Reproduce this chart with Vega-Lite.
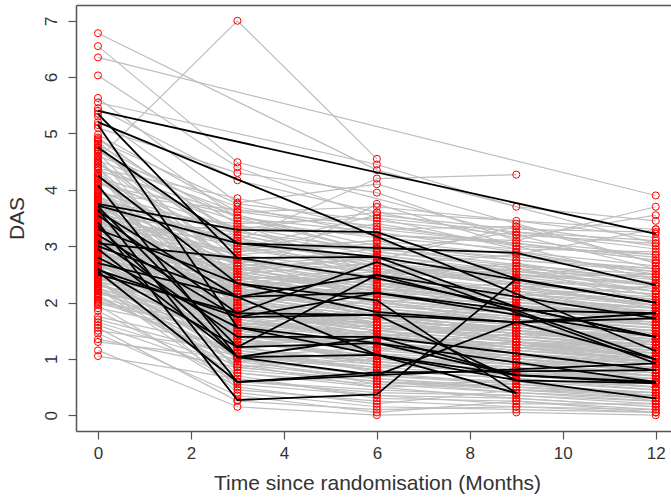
{
"$schema":"https://vega.github.io/schema/vega-lite/v6.json",
"width":595,"height":426,"autosize":"none",
"padding":{"left":76,"top":5,"right":0,"bottom":67},
"config":{"view":{"stroke":null},"font":"Liberation Sans",
"axis":{"grid":false,"domainColor":"#555","domainWidth":1.5,"tickColor":"#555","tickWidth":1.2,"tickSize":8,"labelFont":"Liberation Sans","labelFontSize":17,"labelColor":"#333","titleFont":"Liberation Sans","titleFontSize":21,"titleFontWeight":"normal","titleColor":"#333"}},
"datasets":{
"g":[
{"s":1,"t":0,"d":6.78},{"s":1,"t":6,"d":4.35},{"s":1,"t":12,"d":3.05},
{"s":2,"t":0,"d":6.55},{"s":2,"t":3,"d":4.49},{"s":2,"t":9,"d":3.2},{"s":2,"t":12,"d":2.6},
{"s":3,"t":0,"d":6.35},{"s":3,"t":12,"d":3.9},
{"s":4,"t":0,"d":6.03},{"s":4,"t":3,"d":4.4},{"s":4,"t":6,"d":3.5},{"s":4,"t":9,"d":2.95},
{"s":5,"t":0,"d":5.63},{"s":5,"t":3,"d":3.77},{"s":5,"t":6,"d":4.1},{"s":5,"t":9,"d":3.4},{"s":5,"t":12,"d":2.7},
{"s":6,"t":0,"d":5.55},{"s":6,"t":6,"d":4.45},{"s":6,"t":9,"d":3.7},{"s":6,"t":12,"d":3.45},
{"s":7,"t":0,"d":5.45},{"s":7,"t":3,"d":4.17},{"s":7,"t":6,"d":3.6},{"s":7,"t":12,"d":3.3},
{"s":8,"t":0,"d":5.3},{"s":8,"t":3,"d":3.5},{"s":8,"t":6,"d":2.9},{"s":8,"t":9,"d":2.6},{"s":8,"t":12,"d":2.2},
{"s":9,"t":0,"d":5.1},{"s":9,"t":3,"d":4.3},{"s":9,"t":6,"d":3.95},{"s":9,"t":9,"d":3.1},{"s":9,"t":12,"d":2.85},
{"s":10,"t":0,"d":4.98},{"s":10,"t":3,"d":3.61},{"s":10,"t":6,"d":3.3},{"s":10,"t":9,"d":3.35},{"s":10,"t":12,"d":3.0},
{"s":11,"t":0,"d":4.9},{"s":11,"t":3,"d":3.2},{"s":11,"t":6,"d":2.7},{"s":11,"t":12,"d":1.9},
{"s":12,"t":0,"d":4.85},{"s":12,"t":3,"d":2.9},{"s":12,"t":6,"d":3.1},{"s":12,"t":9,"d":2.5},{"s":12,"t":12,"d":2.3},
{"s":13,"t":0,"d":4.8},{"s":13,"t":3,"d":3.4},{"s":13,"t":6,"d":2.5},{"s":13,"t":9,"d":2.7},{"s":13,"t":12,"d":2.1},
{"s":14,"t":0,"d":4.75},{"s":14,"t":3,"d":2.6},{"s":14,"t":6,"d":2.2},{"s":14,"t":9,"d":1.8},{"s":14,"t":12,"d":1.6},
{"s":15,"t":0,"d":4.7},{"s":15,"t":3,"d":3.0},{"s":15,"t":9,"d":2.9},{"s":15,"t":12,"d":2.5},
{"s":16,"t":0,"d":4.65},{"s":16,"t":3,"d":2.3},{"s":16,"t":6,"d":2.5},{"s":16,"t":9,"d":2.1},{"s":16,"t":12,"d":1.9},
{"s":17,"t":0,"d":4.6},{"s":17,"t":3,"d":3.7},{"s":17,"t":6,"d":3.2},{"s":17,"t":9,"d":3.05},{"s":17,"t":12,"d":2.75},
{"s":18,"t":0,"d":4.55},{"s":18,"t":3,"d":7.0},{"s":18,"t":6,"d":4.55},
{"s":19,"t":0,"d":4.5},{"s":19,"t":3,"d":2.8},{"s":19,"t":6,"d":2.0},{"s":19,"t":9,"d":1.7},{"s":19,"t":12,"d":1.4},
{"s":20,"t":0,"d":4.45},{"s":20,"t":3,"d":3.3},{"s":20,"t":6,"d":3.6},{"s":20,"t":9,"d":3.15},{"s":20,"t":12,"d":3.55},
{"s":21,"t":0,"d":4.4},{"s":21,"t":3,"d":2.1},{"s":21,"t":6,"d":1.8},{"s":21,"t":9,"d":1.5},{"s":21,"t":12,"d":1.2},
{"s":22,"t":0,"d":4.35},{"s":22,"t":3,"d":3.55},{"s":22,"t":6,"d":2.9},{"s":22,"t":9,"d":3.25},{"s":22,"t":12,"d":2.95},
{"s":23,"t":0,"d":4.3},{"s":23,"t":3,"d":2.5},{"s":23,"t":6,"d":2.7},{"s":23,"t":9,"d":2.35},{"s":23,"t":12,"d":2.15},
{"s":24,"t":0,"d":4.25},{"s":24,"t":3,"d":1.9},{"s":24,"t":6,"d":1.4},{"s":24,"t":9,"d":1.2},{"s":24,"t":12,"d":1.0},
{"s":25,"t":0,"d":4.2},{"s":25,"t":3,"d":3.1},{"s":25,"t":6,"d":4.2},{"s":25,"t":9,"d":4.27},
{"s":26,"t":0,"d":4.15},{"s":26,"t":3,"d":2.7},{"s":26,"t":6,"d":2.3},{"s":26,"t":9,"d":2.6},{"s":26,"t":12,"d":2.0},
{"s":27,"t":0,"d":4.1},{"s":27,"t":6,"d":3.0},{"s":27,"t":9,"d":2.8},{"s":27,"t":12,"d":2.6},
{"s":28,"t":0,"d":4.05},{"s":28,"t":3,"d":1.6},{"s":28,"t":6,"d":1.9},{"s":28,"t":9,"d":1.3},{"s":28,"t":12,"d":1.1},
{"s":29,"t":0,"d":4.0},{"s":29,"t":3,"d":2.95},{"s":29,"t":6,"d":2.6},{"s":29,"t":9,"d":2.4},{"s":29,"t":12,"d":2.2},
{"s":30,"t":0,"d":3.98},{"s":30,"t":3,"d":2.4},{"s":30,"t":6,"d":3.75},{"s":30,"t":9,"d":3.0},{"s":30,"t":12,"d":2.4},
{"s":31,"t":0,"d":3.95},{"s":31,"t":3,"d":3.25},{"s":31,"t":6,"d":2.85},{"s":31,"t":9,"d":2.5},{"s":31,"t":12,"d":2.35},
{"s":32,"t":0,"d":3.92},{"s":32,"t":3,"d":1.4},{"s":32,"t":6,"d":1.2},{"s":32,"t":9,"d":0.9},{"s":32,"t":12,"d":0.7},
{"s":33,"t":0,"d":3.9},{"s":33,"t":3,"d":2.2},{"s":33,"t":9,"d":2.0},{"s":33,"t":12,"d":1.75},
{"s":34,"t":0,"d":3.87},{"s":34,"t":3,"d":3.05},{"s":34,"t":6,"d":2.75},{"s":34,"t":9,"d":2.55},{"s":34,"t":12,"d":2.45},
{"s":35,"t":0,"d":3.85},{"s":35,"t":3,"d":1.8},{"s":35,"t":6,"d":1.5},{"s":35,"t":9,"d":1.6},{"s":35,"t":12,"d":1.3},
{"s":36,"t":0,"d":3.82},{"s":36,"t":3,"d":2.65},{"s":36,"t":6,"d":2.1},{"s":36,"t":9,"d":1.9},{"s":36,"t":12,"d":1.85},
{"s":37,"t":0,"d":3.8},{"s":37,"t":3,"d":3.35},{"s":37,"t":6,"d":3.2},{"s":37,"t":9,"d":3.1},{"s":37,"t":12,"d":3.7},
{"s":38,"t":0,"d":3.78},{"s":38,"t":3,"d":2.05},{"s":38,"t":6,"d":1.65},{"s":38,"t":9,"d":1.45},{"s":38,"t":12,"d":1.5},
{"s":39,"t":0,"d":3.75},{"s":39,"t":3,"d":2.75},{"s":39,"t":6,"d":2.4},{"s":39,"t":9,"d":2.2},{"s":39,"t":12,"d":2.05},
{"s":40,"t":0,"d":3.72},{"s":40,"t":3,"d":1.2},{"s":40,"t":6,"d":0.9},{"s":40,"t":9,"d":0.75},{"s":40,"t":12,"d":0.5},
{"s":41,"t":0,"d":3.7},{"s":41,"t":3,"d":2.55},{"s":41,"t":6,"d":2.8},{"s":41,"t":9,"d":2.45},{"s":41,"t":12,"d":2.5},
{"s":42,"t":0,"d":3.68},{"s":42,"t":3,"d":3.15},{"s":42,"t":6,"d":2.65},{"s":42,"t":9,"d":2.3},{"s":42,"t":12,"d":1.95},
{"s":43,"t":0,"d":3.65},{"s":43,"t":3,"d":1.95},{"s":43,"t":6,"d":2.2},{"s":43,"t":9,"d":1.85},{"s":43,"t":12,"d":1.6},
{"s":44,"t":0,"d":3.62},{"s":44,"t":3,"d":2.35},{"s":44,"t":6,"d":1.75},{"s":44,"t":9,"d":1.55},
{"s":45,"t":0,"d":3.6},{"s":45,"t":3,"d":2.85},{"s":45,"t":6,"d":3.05},{"s":45,"t":9,"d":2.75},{"s":45,"t":12,"d":2.55},
{"s":46,"t":0,"d":3.58},{"s":46,"t":3,"d":1.55},{"s":46,"t":6,"d":1.3},{"s":46,"t":9,"d":1.05},{"s":46,"t":12,"d":0.85},
{"s":47,"t":0,"d":3.55},{"s":47,"t":3,"d":2.45},{"s":47,"t":6,"d":2.0},{"s":47,"t":9,"d":2.2},{"s":47,"t":12,"d":1.8},
{"s":48,"t":0,"d":3.52},{"s":48,"t":3,"d":3.0},{"s":48,"t":6,"d":2.55},{"s":48,"t":9,"d":2.65},{"s":48,"t":12,"d":2.3},
{"s":49,"t":0,"d":3.5},{"s":49,"t":3,"d":1.75},{"s":49,"t":6,"d":2.05},{"s":49,"t":9,"d":1.6},{"s":49,"t":12,"d":1.45},
{"s":50,"t":0,"d":3.48},{"s":50,"t":3,"d":2.15},{"s":50,"t":6,"d":1.85},{"s":50,"t":9,"d":1.7},{"s":50,"t":12,"d":1.55},
{"s":51,"t":0,"d":3.46},{"s":51,"t":3,"d":2.9},{"s":51,"t":6,"d":3.4},{"s":51,"t":9,"d":3.0},{"s":51,"t":12,"d":2.85},
{"s":52,"t":0,"d":3.44},{"s":52,"t":3,"d":0.8},{"s":52,"t":6,"d":0.6},{"s":52,"t":9,"d":0.4},{"s":52,"t":12,"d":0.3},
{"s":53,"t":0,"d":3.42},{"s":53,"t":3,"d":2.6},{"s":53,"t":6,"d":2.25},{"s":53,"t":9,"d":2.05},{"s":53,"t":12,"d":1.9},
{"s":54,"t":0,"d":3.4},{"s":54,"t":3,"d":1.85},{"s":54,"t":6,"d":1.6},{"s":54,"t":9,"d":1.4},{"s":54,"t":12,"d":1.2},
{"s":55,"t":0,"d":3.38},{"s":55,"t":3,"d":2.25},{"s":55,"t":6,"d":2.5},{"s":55,"t":9,"d":2.25},{"s":55,"t":12,"d":2.1},
{"s":56,"t":0,"d":3.36},{"s":56,"t":3,"d":3.1},{"s":56,"t":6,"d":2.7},{"s":56,"t":9,"d":2.5},{"s":56,"t":12,"d":2.2},
{"s":57,"t":0,"d":3.34},{"s":57,"t":3,"d":1.45},{"s":57,"t":6,"d":1.1},{"s":57,"t":9,"d":0.95},{"s":57,"t":12,"d":0.8},
{"s":58,"t":0,"d":3.32},{"s":58,"t":3,"d":2.5},{"s":58,"t":6,"d":2.15},{"s":58,"t":9,"d":1.95},{"s":58,"t":12,"d":1.75},
{"s":59,"t":0,"d":3.3},{"s":59,"t":3,"d":2.0},{"s":59,"t":6,"d":1.7},{"s":59,"t":9,"d":1.9},{"s":59,"t":12,"d":1.65},
{"s":60,"t":0,"d":3.28},{"s":60,"t":3,"d":2.7},{"s":60,"t":6,"d":2.95},{"s":60,"t":12,"d":2.4},
{"s":61,"t":0,"d":3.26},{"s":61,"t":3,"d":1.65},{"s":61,"t":6,"d":1.45},{"s":61,"t":9,"d":1.25},{"s":61,"t":12,"d":1.05},
{"s":62,"t":0,"d":3.24},{"s":62,"t":3,"d":2.3},{"s":62,"t":6,"d":1.95},{"s":62,"t":9,"d":1.75},{"s":62,"t":12,"d":1.6},
{"s":63,"t":0,"d":3.22},{"s":63,"t":3,"d":2.8},{"s":63,"t":6,"d":2.35},{"s":63,"t":9,"d":2.15},{"s":63,"t":12,"d":2.0},
{"s":64,"t":0,"d":3.2},{"s":64,"t":3,"d":1.3},{"s":64,"t":6,"d":1.0},{"s":64,"t":9,"d":0.85},{"s":64,"t":12,"d":0.6},
{"s":65,"t":0,"d":3.18},{"s":65,"t":3,"d":2.1},{"s":65,"t":6,"d":2.3},{"s":65,"t":9,"d":1.95},{"s":65,"t":12,"d":1.7},
{"s":66,"t":0,"d":3.16},{"s":66,"t":3,"d":2.55},{"s":66,"t":6,"d":2.2},{"s":66,"t":9,"d":2.35},{"s":66,"t":12,"d":2.05},
{"s":67,"t":0,"d":3.14},{"s":67,"t":3,"d":1.7},{"s":67,"t":6,"d":1.35},{"s":67,"t":9,"d":1.15},{"s":67,"t":12,"d":0.95},
{"s":68,"t":0,"d":3.12},{"s":68,"t":3,"d":2.4},{"s":68,"t":6,"d":2.6},{"s":68,"t":9,"d":2.3},{"s":68,"t":12,"d":2.15},
{"s":69,"t":0,"d":3.1},{"s":69,"t":3,"d":1.9},{"s":69,"t":6,"d":1.55},{"s":69,"t":9,"d":1.35},{"s":69,"t":12,"d":1.15},
{"s":70,"t":0,"d":3.08},{"s":70,"t":3,"d":2.65},{"s":70,"t":6,"d":2.3},{"s":70,"t":9,"d":2.1},
{"s":71,"t":0,"d":3.06},{"s":71,"t":3,"d":1.5},{"s":71,"t":6,"d":1.8},{"s":71,"t":9,"d":1.5},{"s":71,"t":12,"d":1.35},
{"s":72,"t":0,"d":3.04},{"s":72,"t":3,"d":2.2},{"s":72,"t":6,"d":1.9},{"s":72,"t":9,"d":1.65},{"s":72,"t":12,"d":1.45},
{"s":73,"t":0,"d":3.02},{"s":73,"t":3,"d":2.75},{"s":73,"t":6,"d":2.45},{"s":73,"t":9,"d":2.7},{"s":73,"t":12,"d":2.35},
{"s":74,"t":0,"d":3.0},{"s":74,"t":3,"d":1.1},{"s":74,"t":6,"d":0.8},{"s":74,"t":9,"d":0.65},{"s":74,"t":12,"d":0.45},
{"s":75,"t":0,"d":2.98},{"s":75,"t":3,"d":2.35},{"s":75,"t":6,"d":2.05},{"s":75,"t":9,"d":1.85},{"s":75,"t":12,"d":1.7},
{"s":76,"t":0,"d":2.96},{"s":76,"t":3,"d":1.6},{"s":76,"t":6,"d":1.25},{"s":76,"t":9,"d":1.1},{"s":76,"t":12,"d":0.9},
{"s":77,"t":0,"d":2.94},{"s":77,"t":3,"d":2.5},{"s":77,"t":6,"d":2.7},{"s":77,"t":9,"d":2.4},{"s":77,"t":12,"d":2.25},
{"s":78,"t":0,"d":2.92},{"s":78,"t":3,"d":1.95},{"s":78,"t":6,"d":1.65},{"s":78,"t":9,"d":1.45},{"s":78,"t":12,"d":1.3},
{"s":79,"t":0,"d":2.9},{"s":79,"t":3,"d":2.15},{"s":79,"t":6,"d":2.4},{"s":79,"t":9,"d":2.05},{"s":79,"t":12,"d":1.85},
{"s":80,"t":0,"d":2.88},{"s":80,"t":3,"d":1.35},{"s":80,"t":6,"d":1.05},{"s":80,"t":9,"d":0.9},{"s":80,"t":12,"d":0.7},
{"s":81,"t":0,"d":2.86},{"s":81,"t":3,"d":2.45},{"s":81,"t":6,"d":2.1},{"s":81,"t":9,"d":1.9},{"s":81,"t":12,"d":1.75},
{"s":82,"t":0,"d":2.84},{"s":82,"t":3,"d":1.8},{"s":82,"t":6,"d":1.5},{"s":82,"t":9,"d":1.7},{"s":82,"t":12,"d":1.4},
{"s":83,"t":0,"d":2.82},{"s":83,"t":3,"d":2.6},{"s":83,"t":6,"d":2.25},{"s":83,"t":9,"d":2.0},{"s":83,"t":12,"d":1.9},
{"s":84,"t":0,"d":2.8},{"s":84,"t":3,"d":1.25},{"s":84,"t":6,"d":1.5},{"s":84,"t":9,"d":1.2},{"s":84,"t":12,"d":0.95},
{"s":85,"t":0,"d":2.78},{"s":85,"t":6,"d":1.75},{"s":85,"t":9,"d":1.55},{"s":85,"t":12,"d":1.35},
{"s":86,"t":0,"d":2.76},{"s":86,"t":3,"d":2.3},{"s":86,"t":6,"d":2.5},{"s":86,"t":9,"d":2.2},{"s":86,"t":12,"d":2.0},
{"s":87,"t":0,"d":2.74},{"s":87,"t":3,"d":1.55},{"s":87,"t":6,"d":1.2},{"s":87,"t":9,"d":1.0},{"s":87,"t":12,"d":0.8},
{"s":88,"t":0,"d":2.72},{"s":88,"t":3,"d":2.0},{"s":88,"t":6,"d":2.15},{"s":88,"t":9,"d":1.8},{"s":88,"t":12,"d":1.65},
{"s":89,"t":0,"d":2.7},{"s":89,"t":3,"d":1.4},{"s":89,"t":6,"d":1.15},{"s":89,"t":9,"d":1.3},{"s":89,"t":12,"d":1.05},
{"s":90,"t":0,"d":2.68},{"s":90,"t":3,"d":2.25},{"s":90,"t":6,"d":1.95},{"s":90,"t":9,"d":1.75},{"s":90,"t":12,"d":1.55},
{"s":91,"t":0,"d":2.66},{"s":91,"t":3,"d":0.6},{"s":91,"t":6,"d":0.4},{"s":91,"t":9,"d":0.35},{"s":91,"t":12,"d":0.2},
{"s":92,"t":0,"d":2.64},{"s":92,"t":3,"d":1.85},{"s":92,"t":6,"d":1.55},{"s":92,"t":9,"d":1.4},{"s":92,"t":12,"d":1.25},
{"s":93,"t":0,"d":2.62},{"s":93,"t":3,"d":2.4},{"s":93,"t":6,"d":2.1},{"s":93,"t":9,"d":2.25},{"s":93,"t":12,"d":1.95},
{"s":94,"t":0,"d":2.6},{"s":94,"t":3,"d":1.15},{"s":94,"t":6,"d":0.95},{"s":94,"t":9,"d":0.8},{"s":94,"t":12,"d":0.65},
{"s":95,"t":0,"d":2.58},{"s":95,"t":3,"d":1.9},{"s":95,"t":6,"d":2.0},{"s":95,"t":9,"d":1.7},{"s":95,"t":12,"d":1.5},
{"s":96,"t":0,"d":2.56},{"s":96,"t":3,"d":1.65},{"s":96,"t":6,"d":1.4},{"s":96,"t":9,"d":1.2},{"s":96,"t":12,"d":1.1},
{"s":97,"t":0,"d":2.54},{"s":97,"t":3,"d":2.1},{"s":97,"t":6,"d":1.8},{"s":97,"t":9,"d":1.6},{"s":97,"t":12,"d":1.45},
{"s":98,"t":0,"d":2.52},{"s":98,"t":3,"d":1.0},{"s":98,"t":6,"d":0.7},{"s":98,"t":9,"d":0.55},{"s":98,"t":12,"d":0.4},
{"s":99,"t":0,"d":2.5},{"s":99,"t":3,"d":1.75},{"s":99,"t":9,"d":1.55},{"s":99,"t":12,"d":1.35},
{"s":100,"t":0,"d":2.48},{"s":100,"t":3,"d":2.2},{"s":100,"t":6,"d":1.85},{"s":100,"t":9,"d":1.65},{"s":100,"t":12,"d":1.5},
{"s":101,"t":0,"d":2.46},{"s":101,"t":3,"d":1.3},{"s":101,"t":6,"d":1.05},{"s":101,"t":12,"d":0.75},
{"s":102,"t":0,"d":2.44},{"s":102,"t":3,"d":1.6},{"s":102,"t":6,"d":1.65},{"s":102,"t":9,"d":1.35},{"s":102,"t":12,"d":1.2},
{"s":103,"t":0,"d":2.42},{"s":103,"t":3,"d":1.95},{"s":103,"t":6,"d":1.6},{"s":103,"t":9,"d":1.5},{"s":103,"t":12,"d":1.3},
{"s":104,"t":0,"d":2.4},{"s":104,"t":3,"d":0.9},{"s":104,"t":6,"d":0.5},{"s":104,"t":9,"d":0.3},{"s":104,"t":12,"d":0.15},
{"s":105,"t":0,"d":2.38},{"s":105,"t":3,"d":1.7},{"s":105,"t":6,"d":1.45},{"s":105,"t":9,"d":1.25},{"s":105,"t":12,"d":1.05},
{"s":106,"t":0,"d":2.36},{"s":106,"t":3,"d":2.05},{"s":106,"t":6,"d":1.75},{"s":106,"t":9,"d":1.95},{"s":106,"t":12,"d":1.6},
{"s":107,"t":0,"d":2.34},{"s":107,"t":3,"d":1.2},{"s":107,"t":6,"d":1.3},{"s":107,"t":9,"d":1.0},{"s":107,"t":12,"d":0.85},
{"s":108,"t":0,"d":2.32},{"s":108,"t":3,"d":1.5},{"s":108,"t":6,"d":1.2},{"s":108,"t":9,"d":1.05},{"s":108,"t":12,"d":0.9},
{"s":109,"t":0,"d":2.3},{"s":109,"t":3,"d":1.85},{"s":109,"t":6,"d":1.55},{"s":109,"t":9,"d":1.4},{"s":109,"t":12,"d":1.25},
{"s":110,"t":0,"d":2.28},{"s":110,"t":3,"d":0.7},{"s":110,"t":6,"d":0.3},{"s":110,"t":9,"d":0.25},{"s":110,"t":12,"d":0.1},
{"s":111,"t":0,"d":2.26},{"s":111,"t":3,"d":1.4},{"s":111,"t":6,"d":1.6},{"s":111,"t":9,"d":1.3},{"s":111,"t":12,"d":1.15},
{"s":112,"t":0,"d":2.24},{"s":112,"t":3,"d":1.65},{"s":112,"t":6,"d":1.35},{"s":112,"t":9,"d":1.15},{"s":112,"t":12,"d":1.0},
{"s":113,"t":0,"d":2.22},{"s":113,"t":3,"d":1.05},{"s":113,"t":6,"d":0.85},{"s":113,"t":9,"d":0.7},
{"s":114,"t":0,"d":2.2},{"s":114,"t":3,"d":1.55},{"s":114,"t":6,"d":1.25},{"s":114,"t":9,"d":1.45},{"s":114,"t":12,"d":1.1},
{"s":115,"t":0,"d":2.15},{"s":115,"t":3,"d":1.8},{"s":115,"t":6,"d":1.5},{"s":115,"t":9,"d":1.3},{"s":115,"t":12,"d":1.2},
{"s":116,"t":0,"d":2.1},{"s":116,"t":3,"d":0.95},{"s":116,"t":6,"d":1.1},{"s":116,"t":9,"d":0.8},{"s":116,"t":12,"d":0.6},
{"s":117,"t":0,"d":2.05},{"s":117,"t":3,"d":1.35},{"s":117,"t":6,"d":1.0},{"s":117,"t":9,"d":0.9},{"s":117,"t":12,"d":0.75},
{"s":118,"t":0,"d":2.0},{"s":118,"t":3,"d":1.6},{"s":118,"t":6,"d":1.35},{"s":118,"t":9,"d":1.2},{"s":118,"t":12,"d":1.3},
{"s":119,"t":0,"d":1.95},{"s":119,"t":3,"d":0.5},{"s":119,"t":6,"d":0.2},{"s":119,"t":9,"d":0.45},{"s":119,"t":12,"d":0.3},
{"s":120,"t":0,"d":1.9},{"s":120,"t":6,"d":0.9},{"s":120,"t":9,"d":0.75},{"s":120,"t":12,"d":0.6},
{"s":121,"t":0,"d":1.7},{"s":121,"t":3,"d":1.05},{"s":121,"t":6,"d":1.2},{"s":121,"t":9,"d":0.95},{"s":121,"t":12,"d":0.8},
{"s":122,"t":0,"d":1.6},{"s":122,"t":3,"d":0.75},{"s":122,"t":6,"d":0.5},{"s":122,"t":9,"d":0.55},{"s":122,"t":12,"d":0.35},
{"s":123,"t":0,"d":1.5},{"s":123,"t":3,"d":1.15},{"s":123,"t":6,"d":0.8},{"s":123,"t":9,"d":0.65},{"s":123,"t":12,"d":0.5},
{"s":124,"t":0,"d":1.45},{"s":124,"t":3,"d":0.35},{"s":124,"t":6,"d":0.05},{"s":124,"t":9,"d":0.25},{"s":124,"t":12,"d":0.05},
{"s":125,"t":0,"d":1.35},{"s":125,"t":3,"d":0.85},{"s":125,"t":6,"d":0.6},{"s":125,"t":9,"d":0.45},{"s":125,"t":12,"d":0.4},
{"s":126,"t":0,"d":1.3},{"s":126,"t":3,"d":1.0},{"s":126,"t":6,"d":0.7},{"s":126,"t":9,"d":0.6},{"s":126,"t":12,"d":0.45},
{"s":127,"t":0,"d":1.15},{"s":127,"t":3,"d":0.15},{"s":127,"t":6,"d":0.0},{"s":127,"t":9,"d":0.05},{"s":127,"t":12,"d":0.0},
{"s":128,"t":0,"d":1.05},{"s":128,"t":3,"d":0.65},{"s":128,"t":6,"d":0.35},{"s":128,"t":9,"d":0.3},{"s":128,"t":12,"d":0.15},
{"s":129,"t":0,"d":4.93},{"s":129,"t":3,"d":3.15},{"s":129,"t":6,"d":2.4},{"s":129,"t":9,"d":2.2},{"s":129,"t":12,"d":1.7},
{"s":130,"t":0,"d":4.82},{"s":130,"t":3,"d":2.2},{"s":130,"t":6,"d":1.6},{"s":130,"t":9,"d":1.3},{"s":130,"t":12,"d":0.9},
{"s":131,"t":0,"d":4.68},{"s":131,"t":3,"d":3.5},{"s":131,"t":6,"d":3.25},{"s":131,"t":9,"d":2.9},{"s":131,"t":12,"d":2.65},
{"s":132,"t":0,"d":4.58},{"s":132,"t":3,"d":1.75},{"s":132,"t":6,"d":1.3},{"s":132,"t":9,"d":1.1},{"s":132,"t":12,"d":0.95},
{"s":133,"t":0,"d":4.48},{"s":133,"t":3,"d":2.65},{"s":133,"t":6,"d":2.85},{"s":133,"t":9,"d":2.55},{"s":133,"t":12,"d":2.3},
{"s":134,"t":0,"d":4.38},{"s":134,"t":3,"d":3.85},{"s":134,"t":6,"d":3.3},{"s":134,"t":12,"d":2.8},
{"s":135,"t":0,"d":4.28},{"s":135,"t":3,"d":1.35},{"s":135,"t":6,"d":0.95},{"s":135,"t":9,"d":0.7},{"s":135,"t":12,"d":0.55},
{"s":136,"t":0,"d":4.18},{"s":136,"t":3,"d":2.45},{"s":136,"t":6,"d":2.05},{"s":136,"t":9,"d":1.8},{"s":136,"t":12,"d":1.65},
{"s":137,"t":0,"d":4.12},{"s":137,"t":3,"d":3.3},{"s":137,"t":6,"d":2.6},{"s":137,"t":9,"d":2.3},{"s":137,"t":12,"d":1.95},
{"s":138,"t":0,"d":4.02},{"s":138,"t":3,"d":1.95},{"s":138,"t":6,"d":2.35},{"s":138,"t":9,"d":1.95},{"s":138,"t":12,"d":1.75},
{"s":139,"t":0,"d":3.96},{"s":139,"t":3,"d":2.8},{"s":139,"t":6,"d":2.45},{"s":139,"t":9,"d":2.2},
{"s":140,"t":0,"d":3.88},{"s":140,"t":3,"d":1.25},{"s":140,"t":6,"d":0.75},{"s":140,"t":9,"d":0.55},{"s":140,"t":12,"d":0.35},
{"s":141,"t":0,"d":3.83},{"s":141,"t":3,"d":2.35},{"s":141,"t":6,"d":2.55},{"s":141,"t":9,"d":2.15},{"s":141,"t":12,"d":1.95},
{"s":142,"t":0,"d":3.76},{"s":142,"t":3,"d":3.0},{"s":142,"t":6,"d":2.65},{"s":142,"t":9,"d":2.85},{"s":142,"t":12,"d":2.55},
{"s":143,"t":0,"d":3.71},{"s":143,"t":3,"d":1.65},{"s":143,"t":6,"d":1.35},{"s":143,"t":9,"d":1.2},{"s":143,"t":12,"d":1.05},
{"s":144,"t":0,"d":3.66},{"s":144,"t":3,"d":2.7},{"s":144,"t":6,"d":2.35},{"s":144,"t":9,"d":2.05},{"s":144,"t":12,"d":1.8},
{"s":145,"t":0,"d":3.61},{"s":145,"t":3,"d":0.95},{"s":145,"t":6,"d":0.65},{"s":145,"t":9,"d":0.45},{"s":145,"t":12,"d":0.35},
{"s":146,"t":0,"d":3.57},{"s":146,"t":3,"d":2.2},{"s":146,"t":6,"d":2.4},{"s":146,"t":9,"d":2.1},{"s":146,"t":12,"d":1.9},
{"s":147,"t":0,"d":3.53},{"s":147,"t":3,"d":3.25},{"s":147,"t":6,"d":2.95},{"s":147,"t":9,"d":2.75},{"s":147,"t":12,"d":2.6},
{"s":148,"t":0,"d":3.49},{"s":148,"t":3,"d":1.5},{"s":148,"t":6,"d":1.15},{"s":148,"t":9,"d":0.95},{"s":148,"t":12,"d":0.7},
{"s":149,"t":0,"d":3.45},{"s":149,"t":3,"d":2.05},{"s":149,"t":6,"d":1.75},{"s":149,"t":9,"d":1.55},{"s":149,"t":12,"d":1.4},
{"s":150,"t":0,"d":3.41},{"s":150,"t":3,"d":2.85},{"s":150,"t":6,"d":2.55},{"s":150,"t":9,"d":2.35},{"s":150,"t":12,"d":2.05},
{"s":151,"t":0,"d":3.37},{"s":151,"t":3,"d":1.2},{"s":151,"t":6,"d":1.45},{"s":151,"t":9,"d":1.1},{"s":151,"t":12,"d":0.9},
{"s":152,"t":0,"d":3.33},{"s":152,"t":3,"d":2.4},{"s":152,"t":6,"d":2.0},{"s":152,"t":9,"d":1.8},{"s":152,"t":12,"d":1.65},
{"s":153,"t":0,"d":3.29},{"s":153,"t":3,"d":1.85},{"s":153,"t":6,"d":1.5},{"s":153,"t":9,"d":1.3},
{"s":154,"t":0,"d":3.25},{"s":154,"t":3,"d":3.35},{"s":154,"t":6,"d":2.9},{"s":154,"t":9,"d":2.65},{"s":154,"t":12,"d":2.5},
{"s":155,"t":0,"d":3.21},{"s":155,"t":3,"d":0.45},{"s":155,"t":6,"d":0.25},{"s":155,"t":9,"d":0.15},{"s":155,"t":12,"d":0.1},
{"s":156,"t":0,"d":3.17},{"s":156,"t":3,"d":2.15},{"s":156,"t":6,"d":1.85},{"s":156,"t":9,"d":1.6},{"s":156,"t":12,"d":1.5},
{"s":157,"t":0,"d":3.13},{"s":157,"t":3,"d":2.6},{"s":157,"t":6,"d":2.8},{"s":157,"t":9,"d":2.45},{"s":157,"t":12,"d":2.2},
{"s":158,"t":0,"d":3.09},{"s":158,"t":3,"d":1.45},{"s":158,"t":6,"d":1.2},{"s":158,"t":9,"d":1.05},{"s":158,"t":12,"d":0.85},
{"s":159,"t":0,"d":3.05},{"s":159,"t":3,"d":1.9},{"s":159,"t":6,"d":1.6},{"s":159,"t":9,"d":1.45},{"s":159,"t":12,"d":1.35},
{"s":160,"t":0,"d":3.01},{"s":160,"t":3,"d":2.55},{"s":160,"t":6,"d":2.15},{"s":160,"t":9,"d":1.95},{"s":160,"t":12,"d":1.8},
{"s":161,"t":0,"d":2.97},{"s":161,"t":3,"d":0.85},{"s":161,"t":6,"d":1.0},{"s":161,"t":9,"d":0.75},{"s":161,"t":12,"d":0.6},
{"s":162,"t":0,"d":2.93},{"s":162,"t":3,"d":2.05},{"s":162,"t":6,"d":2.25},{"s":162,"t":9,"d":1.9},{"s":162,"t":12,"d":1.7},
{"s":163,"t":0,"d":2.89},{"s":163,"t":3,"d":1.7},{"s":163,"t":6,"d":1.4},{"s":163,"t":9,"d":1.25},{"s":163,"t":12,"d":1.1},
{"s":164,"t":0,"d":2.85},{"s":164,"t":3,"d":2.35},{"s":164,"t":6,"d":2.0},{"s":164,"t":9,"d":1.8},{"s":164,"t":12,"d":1.6},
{"s":165,"t":0,"d":2.81},{"s":165,"t":3,"d":1.1},{"s":165,"t":6,"d":0.85},{"s":165,"t":9,"d":1.0},{"s":165,"t":12,"d":0.75},
{"s":166,"t":0,"d":2.77},{"s":166,"t":3,"d":1.8},{"s":166,"t":6,"d":1.55},{"s":166,"t":9,"d":1.35},{"s":166,"t":12,"d":1.2},
{"s":167,"t":0,"d":2.73},{"s":167,"t":3,"d":2.5},{"s":167,"t":6,"d":2.2},{"s":167,"t":9,"d":2.0},{"s":167,"t":12,"d":1.85},
{"s":168,"t":0,"d":2.69},{"s":168,"t":3,"d":1.3},{"s":168,"t":6,"d":1.0},{"s":168,"t":9,"d":0.85},{"s":168,"t":12,"d":0.65},
{"s":169,"t":0,"d":2.65},{"s":169,"t":3,"d":1.95},{"s":169,"t":6,"d":1.7},{"s":169,"t":9,"d":1.5},{"s":169,"t":12,"d":1.35},
{"s":170,"t":0,"d":2.61},{"s":170,"t":3,"d":0.4},{"s":170,"t":6,"d":0.15},{"s":170,"t":9,"d":0.1},{"s":170,"t":12,"d":0.05},
{"s":171,"t":0,"d":2.57},{"s":171,"t":3,"d":1.55},{"s":171,"t":6,"d":1.75},{"s":171,"t":9,"d":1.45},{"s":171,"t":12,"d":1.25},
{"s":172,"t":0,"d":2.53},{"s":172,"t":3,"d":2.25},{"s":172,"t":6,"d":1.9},{"s":172,"t":9,"d":1.7},{"s":172,"t":12,"d":1.55},
{"s":173,"t":0,"d":2.49},{"s":173,"t":3,"d":1.05},{"s":173,"t":6,"d":0.8},{"s":173,"t":9,"d":0.65},{"s":173,"t":12,"d":0.5},
{"s":174,"t":0,"d":2.45},{"s":174,"t":3,"d":1.7},{"s":174,"t":6,"d":1.4},{"s":174,"t":9,"d":1.6},{"s":174,"t":12,"d":1.3},
{"s":175,"t":0,"d":2.41},{"s":175,"t":3,"d":2.0},{"s":175,"t":6,"d":1.7},{"s":175,"t":9,"d":1.5},{"s":175,"t":12,"d":1.4},
{"s":176,"t":0,"d":2.37},{"s":176,"t":3,"d":0.75},{"s":176,"t":6,"d":0.55},{"s":176,"t":9,"d":0.4},{"s":176,"t":12,"d":0.25},
{"s":177,"t":0,"d":2.33},{"s":177,"t":3,"d":1.45},{"s":177,"t":6,"d":1.25},{"s":177,"t":9,"d":1.05},{"s":177,"t":12,"d":0.95},
{"s":178,"t":0,"d":2.29},{"s":178,"t":3,"d":1.9},{"s":178,"t":6,"d":1.65},{"s":178,"t":9,"d":1.45},{"s":178,"t":12,"d":1.3},
{"s":179,"t":0,"d":2.25},{"s":179,"t":3,"d":0.55},{"s":179,"t":6,"d":0.35},{"s":179,"t":9,"d":0.2},{"s":179,"t":12,"d":0.2},
{"s":180,"t":0,"d":2.21},{"s":180,"t":3,"d":1.25},{"s":180,"t":6,"d":1.4},{"s":180,"t":9,"d":1.15},{"s":180,"t":12,"d":1.0},
{"s":181,"t":0,"d":2.17},{"s":181,"t":3,"d":1.75},{"s":181,"t":6,"d":1.45},{"s":181,"t":9,"d":1.25},{"s":181,"t":12,"d":1.15},
{"s":182,"t":0,"d":2.13},{"s":182,"t":3,"d":0.85},{"s":182,"t":6,"d":0.6},{"s":182,"t":9,"d":0.5},{"s":182,"t":12,"d":0.35},
{"s":183,"t":0,"d":2.08},{"s":183,"t":3,"d":1.5},{"s":183,"t":6,"d":1.2},{"s":183,"t":9,"d":1.0},{"s":183,"t":12,"d":0.85},
{"s":184,"t":0,"d":2.03},{"s":184,"t":3,"d":1.1},{"s":184,"t":6,"d":0.9},{"s":184,"t":9,"d":0.75},{"s":184,"t":12,"d":0.65},
{"s":185,"t":0,"d":1.98},{"s":185,"t":3,"d":1.45},{"s":185,"t":6,"d":1.15},{"s":185,"t":9,"d":1.3},{"s":185,"t":12,"d":1.0},
{"s":186,"t":0,"d":1.85},{"s":186,"t":3,"d":0.6},{"s":186,"t":6,"d":0.45},{"s":186,"t":9,"d":0.35},{"s":186,"t":12,"d":0.25},
{"s":187,"t":0,"d":1.75},{"s":187,"t":3,"d":1.2},{"s":187,"t":6,"d":0.95},{"s":187,"t":9,"d":0.8},{"s":187,"t":12,"d":0.7},
{"s":188,"t":0,"d":1.65},{"s":188,"t":3,"d":0.9},{"s":188,"t":6,"d":0.65},{"s":188,"t":9,"d":0.5},{"s":188,"t":12,"d":0.4},
{"s":189,"t":0,"d":1.55},{"s":189,"t":3,"d":0.25},{"s":189,"t":6,"d":0.1},{"s":189,"t":9,"d":0.15},{"s":189,"t":12,"d":0.05},
{"s":190,"t":0,"d":4.88},{"s":190,"t":3,"d":3.75},{"s":190,"t":6,"d":3.45},{"s":190,"t":9,"d":3.2},{"s":190,"t":12,"d":3.05},
{"s":191,"t":0,"d":4.72},{"s":191,"t":3,"d":2.95},{"s":191,"t":6,"d":3.55},{"s":191,"t":9,"d":3.3},{"s":191,"t":12,"d":3.25},
{"s":192,"t":0,"d":4.52},{"s":192,"t":3,"d":3.6},{"s":192,"t":6,"d":3.7},{"s":192,"t":9,"d":3.45},{"s":192,"t":12,"d":3.15},
{"s":193,"t":0,"d":4.22},{"s":193,"t":3,"d":3.45},{"s":193,"t":6,"d":3.15},{"s":193,"t":9,"d":2.95},{"s":193,"t":12,"d":2.9},
{"s":194,"t":0,"d":3.93},{"s":194,"t":3,"d":3.65},{"s":194,"t":6,"d":3.35},{"s":194,"t":9,"d":3.05},{"s":194,"t":12,"d":2.75},
{"s":195,"t":0,"d":3.63},{"s":195,"t":3,"d":3.4},{"s":195,"t":6,"d":3.5},{"s":195,"t":9,"d":3.25},{"s":195,"t":12,"d":3.1},
{"s":196,"t":0,"d":3.39},{"s":196,"t":3,"d":3.2},{"s":196,"t":6,"d":2.75},{"s":196,"t":9,"d":3.35},{"s":196,"t":12,"d":2.7},
{"s":197,"t":0,"d":3.15},{"s":197,"t":3,"d":2.95},{"s":197,"t":6,"d":3.1},{"s":197,"t":9,"d":2.85},{"s":197,"t":12,"d":3.3},
{"s":198,"t":0,"d":2.87},{"s":198,"t":3,"d":2.75},{"s":198,"t":6,"d":2.55},{"s":198,"t":9,"d":2.6},{"s":198,"t":12,"d":2.45},
{"s":199,"t":0,"d":2.63},{"s":199,"t":3,"d":2.45},{"s":199,"t":6,"d":2.4},{"s":199,"t":9,"d":2.1},{"s":199,"t":12,"d":2.3},
{"s":200,"t":0,"d":4.42},{"s":200,"t":3,"d":1.0},{"s":200,"t":6,"d":0.55},{"s":200,"t":9,"d":0.6},{"s":200,"t":12,"d":0.25}
],
"b":[
{"s":201,"t":0,"d":5.4},{"s":201,"t":12,"d":3.22},
{"s":202,"t":0,"d":5.2},{"s":202,"t":6,"d":3.17},{"s":202,"t":12,"d":1.14},
{"s":203,"t":0,"d":5.35},{"s":203,"t":3,"d":2.79},{"s":203,"t":6,"d":2.81},{"s":203,"t":9,"d":1.92},{"s":203,"t":12,"d":1.39},
{"s":204,"t":0,"d":5.15},{"s":204,"t":3,"d":1.56},{"s":204,"t":6,"d":1.28},{"s":204,"t":12,"d":0.59},
{"s":205,"t":0,"d":4.75},{"s":205,"t":3,"d":3.05},{"s":205,"t":6,"d":2.97},{"s":205,"t":9,"d":2.88},{"s":205,"t":12,"d":2.31},
{"s":206,"t":0,"d":4.25},{"s":206,"t":3,"d":2.34},{"s":206,"t":6,"d":1.83},{"s":206,"t":9,"d":1.65},{"s":206,"t":12,"d":1.81},
{"s":207,"t":0,"d":4.08},{"s":207,"t":3,"d":1.03},{"s":207,"t":6,"d":1.07},{"s":207,"t":9,"d":0.71},{"s":207,"t":12,"d":0.57},
{"s":208,"t":0,"d":3.75},{"s":208,"t":3,"d":3.29},{"s":208,"t":6,"d":3.25},{"s":208,"t":9,"d":2.42},{"s":208,"t":12,"d":2.0},
{"s":209,"t":0,"d":3.7},{"s":209,"t":3,"d":1.21},{"s":209,"t":6,"d":2.49},{"s":209,"t":12,"d":1.72},
{"s":210,"t":0,"d":3.65},{"s":210,"t":3,"d":0.59},{"s":210,"t":6,"d":0.76},{"s":210,"t":12,"d":0.8},
{"s":211,"t":0,"d":3.62},{"s":211,"t":3,"d":2.1},{"s":211,"t":6,"d":2.17},{"s":211,"t":9,"d":1.86},{"s":211,"t":12,"d":0.99},
{"s":212,"t":0,"d":3.55},{"s":212,"t":3,"d":1.81},{"s":212,"t":6,"d":2.72},{"s":212,"t":12,"d":0.92},
{"s":213,"t":0,"d":3.42},{"s":213,"t":3,"d":0.27},{"s":213,"t":6,"d":0.37},{"s":213,"t":9,"d":2.42},
{"s":214,"t":0,"d":3.3},{"s":214,"t":3,"d":2.34},{"s":214,"t":6,"d":2.04},{"s":214,"t":9,"d":0.39},
{"s":215,"t":0,"d":3.2},{"s":215,"t":3,"d":1.74},{"s":215,"t":6,"d":1.78},{"s":215,"t":9,"d":0.62},{"s":215,"t":12,"d":0.57},
{"s":216,"t":0,"d":3.1},{"s":216,"t":3,"d":1.39},{"s":216,"t":6,"d":1.39},{"s":216,"t":9,"d":0.71},
{"s":217,"t":0,"d":3.05},{"s":217,"t":3,"d":2.79},{"s":217,"t":6,"d":2.43},{"s":217,"t":9,"d":1.92},{"s":217,"t":12,"d":1.39},
{"s":218,"t":0,"d":2.95},{"s":218,"t":3,"d":1.03},{"s":218,"t":6,"d":0.71},{"s":218,"t":9,"d":1.65},{"s":218,"t":12,"d":1.72},
{"s":219,"t":0,"d":2.8},{"s":219,"t":3,"d":1.56},{"s":219,"t":6,"d":1.07},{"s":219,"t":9,"d":0.62},{"s":219,"t":12,"d":0.3},
{"s":220,"t":0,"d":2.7},{"s":220,"t":3,"d":2.1},{"s":220,"t":6,"d":2.49},{"s":220,"t":9,"d":1.86},{"s":220,"t":12,"d":1.81},
{"s":221,"t":0,"d":2.6},{"s":221,"t":3,"d":1.21},{"s":221,"t":6,"d":1.28},{"s":221,"t":9,"d":0.71},{"s":221,"t":12,"d":0.59},
{"s":222,"t":0,"d":2.58},{"s":222,"t":3,"d":1.74},{"s":222,"t":6,"d":2.17},{"s":222,"t":12,"d":1.39},
{"s":223,"t":0,"d":2.55},{"s":223,"t":3,"d":0.59},{"s":223,"t":6,"d":0.71},{"s":223,"t":12,"d":0.92},
{"s":224,"t":0,"d":2.5},{"s":224,"t":3,"d":1.81},{"s":224,"t":6,"d":1.78},{"s":224,"t":9,"d":1.65},{"s":224,"t":12,"d":0.99},
{"s":225,"t":0,"d":3.72},{"s":225,"t":3,"d":3.05},{"s":225,"t":6,"d":2.81},{"s":225,"t":12,"d":2.0},
{"s":226,"t":0,"d":3.35},{"s":226,"t":3,"d":1.03},{"s":226,"t":6,"d":1.39},{"s":226,"t":12,"d":0.8},
{"s":227,"t":0,"d":3.0},{"s":227,"t":3,"d":2.1},{"s":227,"t":6,"d":1.07},{"s":227,"t":9,"d":0.39}
]},
"layer":[
{"data":{"name":"g"},"mark":{"type":"line","color":"#bebebe","strokeWidth":1.2},
"encoding":{
"x":{"field":"t","type":"quantitative","scale":{"domain":[-0.473,12.328],"nice":false,"zero":false},
"axis":{"values":[0,2,4,6,8,10,12],"format":"d","title":"Time since randomisation (Months)","labelPadding":6,"titleX":301,"titleY":58.5,"titleBaseline":"alphabetic","titleAlign":"center","titleAnchor":null}},
"y":{"field":"d","type":"quantitative","scale":{"domain":[-0.28,7.28],"nice":false,"zero":false},
"axis":{"values":[0,1,2,3,4,5,6,7],"format":"d","title":"DAS","labelAngle":-90,"labelAlign":"center","labelBaseline":"alphabetic","labelPadding":12,"titleX":-52.5,"titleY":213,"titleAngle":-90,"titleBaseline":"alphabetic","titleAlign":"center","titleAnchor":null}},
"detail":{"field":"s"}}},
{"data":{"name":"g"},"mark":{"type":"point","shape":"circle","filled":false,"color":"#ff0000","size":50,"strokeWidth":1,"opacity":1},
"encoding":{"x":{"field":"t","type":"quantitative","axis":{"orient":"top","labels":false,"ticks":false,"title":null}},"y":{"field":"d","type":"quantitative"}}},
{"data":{"name":"b"},"mark":{"type":"point","shape":"circle","filled":false,"color":"#ff0000","size":50,"strokeWidth":1,"opacity":1},
"encoding":{"x":{"field":"t","type":"quantitative","axis":null},"y":{"field":"d","type":"quantitative"}}},
{"data":{"name":"b"},"mark":{"type":"line","color":"#000000","strokeWidth":1.8},
"encoding":{"x":{"field":"t","type":"quantitative","axis":null},"y":{"field":"d","type":"quantitative"},"detail":{"field":"s"}}}
],
"resolve":{"axis":{"x":"independent"}}
}
